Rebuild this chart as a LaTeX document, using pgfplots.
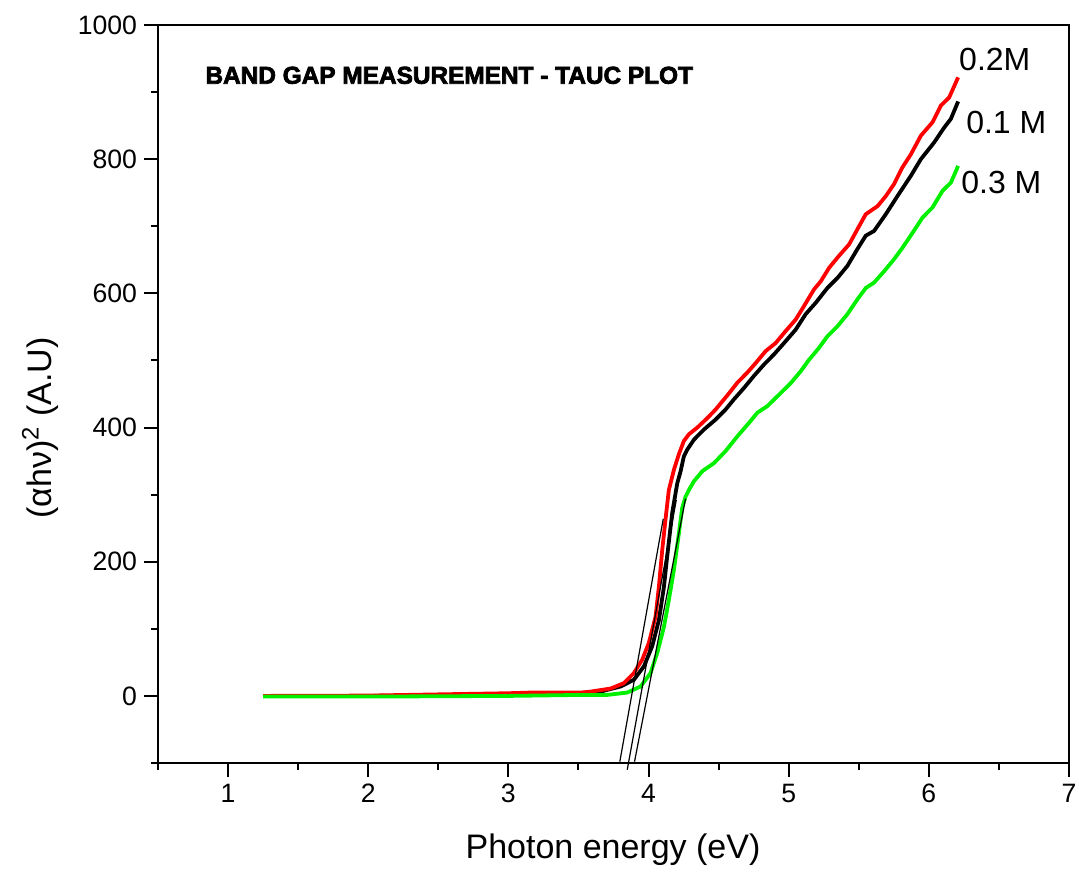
\documentclass[border=0pt]{standalone}
\usepackage{pgfplots}
\pgfplotsset{compat=1.18}
\usepackage{fontspec}
\setmainfont{Liberation Sans}
\newfontfamily\heavyfont[FakeBold=3]{Liberation Sans Bold}
\definecolor{lgreen}{RGB}{0,240,0}
\begin{document}
\begin{tikzpicture}
\begin{axis}[
  at={(0,0)}, anchor=south west,
  width=455.5pt, height=369pt, scale only axis,
  xmin=0.5, xmax=7, ymin=-100, ymax=1000,
  xtick={1,2,3,4,5,6,7},
  minor xtick={0.5,1.5,2.5,3.5,4.5,5.5,6.5},
  ytick={0,200,400,600,800,1000},
  minor ytick={-100,100,300,500,700,900},
  tick pos=left, tick align=outside,
  major tick length=7pt, minor tick length=3.5pt,
  every tick/.style={black, line width=1pt},
  axis line style={line width=1.2pt},
  /pgf/number format/assume math mode=true,
  /pgf/number format/1000 sep={},
  tick label style={font=\fontsize{13.3}{15}\selectfont},
  xlabel={Photon energy (eV)},
  ylabel={(αhν)\textsuperscript{2} (A.U)},
  xlabel style={font=\fontsize{17}{20}\selectfont, at={(axis description cs:0.4995,-0.118)}, anchor=center},
  ylabel style={font=\fontsize{17}{20}\selectfont, at={(axis description cs:-0.1295,0.454)}, anchor=center, rotate=0},
  clip=false,
]
% 0.1 M (black)
\addplot[black, line width=1.9pt] coordinates {
(1.25,0) (2.0,0) (2.5,0.5) (3.0,1.5) (3.3,2.5) (3.514,4) (3.657,6.4) (3.8,14) (3.895,24) (3.967,44) (4.026,74) (4.074,113) (4.110,163) (4.133,208) (4.169,273) (4.205,317) (4.229,335) (4.252,357) (4.276,367) (4.324,382) (4.395,397) (4.479,412) (4.55,427) (4.609,442) (4.681,459) (4.752,477) (4.824,494) (4.895,509) (4.967,526) (5.05,546) (5.121,569) (5.193,586) (5.276,608) (5.348,623) (5.419,641) (5.49,666) (5.55,686) (5.609,693) (5.693,718) (5.776,745) (5.871,775) (5.943,800) (6.038,825) (6.109,847) (6.157,860) (6.209,886)
};
% 0.2 M (red)
\addplot[red, line width=1.9pt] coordinates {
(1.25,0) (2.0,0.5) (2.56,2.5) (3.0,4) (3.157,5) (3.514,5) (3.586,6.4) (3.729,11) (3.824,19) (3.895,34) (3.955,54) (4.002,79) (4.05,118) (4.074,163) (4.098,218) (4.121,263) (4.145,307) (4.181,337) (4.216,360) (4.252,380) (4.288,390) (4.348,400) (4.419,414) (4.479,427) (4.574,451) (4.634,467) (4.705,482) (4.764,496) (4.836,514) (4.907,526) (4.979,544) (5.05,561) (5.109,581) (5.181,606) (5.229,618) (5.288,638) (5.359,656) (5.431,673) (5.502,700) (5.55,718) (5.634,730) (5.693,745) (5.752,763) (5.812,788) (5.871,807) (5.943,835) (6.026,855) (6.086,880) (6.145,892) (6.209,922)
};
% 0.3 M (green)
\addplot[lgreen, line width=1.9pt] coordinates {
(1.25,-1) (2.0,-1) (3.0,0) (3.514,1.5) (3.705,1.5) (3.848,5) (3.943,14) (4.014,34) (4.062,64) (4.11,103) (4.145,143) (4.181,188) (4.217,243) (4.24,280) (4.264,297) (4.288,307) (4.324,320) (4.384,335) (4.467,347) (4.55,365) (4.634,387) (4.717,407) (4.776,422) (4.848,432) (4.931,449) (5.014,466) (5.086,484) (5.145,501) (5.217,519) (5.276,536) (5.348,551) (5.419,569) (5.49,591) (5.55,608) (5.609,616) (5.681,633) (5.752,651) (5.812,668) (5.883,690) (5.955,713) (6.026,728) (6.098,753) (6.157,765) (6.209,790)
};
% tangent lines
\addplot[black, line width=0.6pt] coordinates {(3.795,-98) (4.105,264)};
\addplot[black, line width=0.6pt] coordinates {(3.848,-110) (4.198,292)};
\addplot[black, line width=0.6pt] coordinates {(3.9,-98) (4.264,294)};
\node[anchor=west, inner sep=0pt, font=\heavyfont\fontsize{12.2}{14}\selectfont] at (axis cs:0.836,925) {BAND GAP MEASUREMENT - TAUC PLOT};
\node[anchor=west, inner sep=0pt, font=\fontsize{16}{19}\selectfont] at (axis cs:6.214,948) {0.2M};
\node[anchor=west, inner sep=0pt, font=\fontsize{16}{19}\selectfont] at (axis cs:6.264,855) {0.1 M};
\node[anchor=west, inner sep=0pt, font=\fontsize{16}{19}\selectfont] at (axis cs:6.229,766) {0.3 M};
\end{axis}
\pgfresetboundingbox
\path (-79pt,-56pt) rectangle (460.5pt,381.5pt);
\end{tikzpicture}
\end{document}
